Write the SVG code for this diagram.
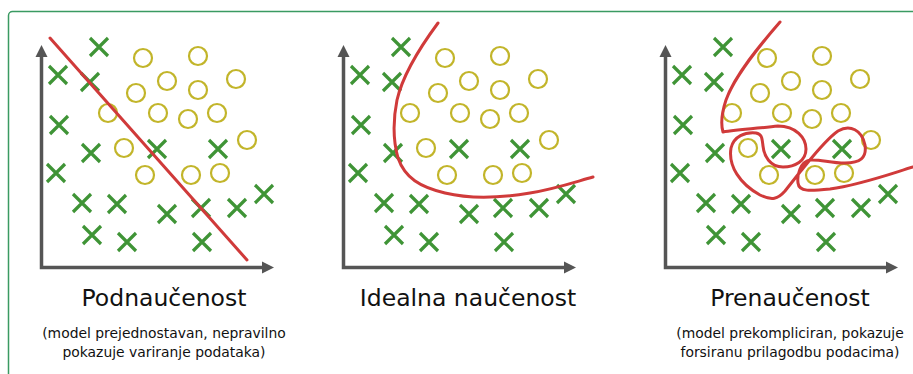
<svg xmlns="http://www.w3.org/2000/svg" xmlns:xlink="http://www.w3.org/1999/xlink" width="913" height="374" viewBox="0 0 913 374">
<style>
.x{stroke:#3f9436;stroke-width:3.2;fill:none}
.o{stroke:#c2b52a;stroke-width:2.2;fill:none}
.axis{stroke:#555;stroke-width:3.5;fill:none}
.fit{stroke:#d03a3a;stroke-width:3;fill:none;stroke-linecap:round;stroke-linejoin:round}
.title{font-family:"DejaVu Sans",sans-serif;font-size:23.5px;fill:#111;text-anchor:middle}
.sub{font-family:"DejaVu Sans",sans-serif;font-size:13.9px;fill:#111;text-anchor:middle}
</style>
<defs>
<path id="xm" d="M-9,-9L9,9M9,-9L-9,9" class="x"/>
<circle id="om" r="9" class="o"/>
<g id="data">
<use xlink:href="#xm" x="99" y="47"/>
<use xlink:href="#xm" x="58" y="75"/>
<use xlink:href="#xm" x="90" y="82"/>
<use xlink:href="#xm" x="59" y="125"/>
<use xlink:href="#xm" x="91" y="153"/>
<use xlink:href="#xm" x="56" y="173"/>
<use xlink:href="#xm" x="157" y="149"/>
<use xlink:href="#xm" x="218" y="149"/>
<use xlink:href="#xm" x="82" y="203"/>
<use xlink:href="#xm" x="117" y="204"/>
<use xlink:href="#xm" x="167" y="214"/>
<use xlink:href="#xm" x="201" y="208"/>
<use xlink:href="#xm" x="237" y="208"/>
<use xlink:href="#xm" x="264" y="194"/>
<use xlink:href="#xm" x="92" y="235"/>
<use xlink:href="#xm" x="127" y="242"/>
<use xlink:href="#xm" x="202" y="242"/>
<use xlink:href="#om" x="143" y="58"/>
<use xlink:href="#om" x="198" y="56"/>
<use xlink:href="#om" x="167" y="81"/>
<use xlink:href="#om" x="198" y="90"/>
<use xlink:href="#om" x="236" y="79"/>
<use xlink:href="#om" x="136" y="93"/>
<use xlink:href="#om" x="108" y="113"/>
<use xlink:href="#om" x="158" y="113"/>
<use xlink:href="#om" x="188" y="119"/>
<use xlink:href="#om" x="217" y="113"/>
<use xlink:href="#om" x="247" y="140"/>
<use xlink:href="#om" x="124" y="148"/>
<use xlink:href="#om" x="145" y="175"/>
<use xlink:href="#om" x="191" y="175"/>
<use xlink:href="#om" x="220" y="173"/>
</g>
<g id="axes">
<path class="axis" d="M41.5,56V267.5H263"/>
<path d="M41.5,45L35.5,57H47.5Z" fill="#555"/>
<path d="M274,267.5L262,261.5V273.5Z" fill="#555"/>
</g>
</defs>
<rect x="8.5" y="11.5" width="920" height="380" rx="4" fill="none" stroke="#3a9a62" stroke-width="1.5"/>
<g id="underfit">
<use xlink:href="#axes"/>
<use xlink:href="#data"/>
<path class="fit" d="M50,38L247,260"/>
<text class="title" x="164" y="306">Podnaučenost</text>
<text class="sub" x="164" y="338">(model prejednostavan, nepravilno</text>
<text class="sub" x="164" y="357">pokazuje variranje podataka)</text>
</g>
<g id="ideal">
<g transform="translate(302,0)">
<use xlink:href="#axes"/>
<use xlink:href="#data"/>
</g>
<path class="fit" d="M438,23C418,50 402,78 397,100C393,120 393,140 398,158C405,178 420,187 445,193C470,199 500,198 530,193C555,189 575,182 593,177"/>
<text class="title" x="468" y="306">Idealna naučenost</text>
</g>
<g id="overfit">
<g transform="translate(624,0)">
<use xlink:href="#axes"/>
<use xlink:href="#data"/>
</g>
<path class="fit" d="M780,22C760,45 735,75 726,100C721,115 721,125 723,132C735,130 760,128 778,126C796,126 806,138 806,149C806,161 795,167 783,167C770,167 764,156 763,146C762,138 762,134 756,133C745,132 734,136 731,148C728,166 740,184 760,195C772,201 778,199 785,191L800,172C810,160 825,140 838,131C850,124 862,130 865,145C867,158 860,163 845,163C830,163 820,159 810,160C800,162 797,175 798,183C799,192 810,191 830,189C860,185 890,174 913,167"/>
<text class="title" x="790" y="306">Prenaučenost</text>
<text class="sub" x="790" y="338">(model prekompliciran, pokazuje</text>
<text class="sub" x="790" y="357">forsiranu prilagodbu podacima)</text>
</g>
</svg>
